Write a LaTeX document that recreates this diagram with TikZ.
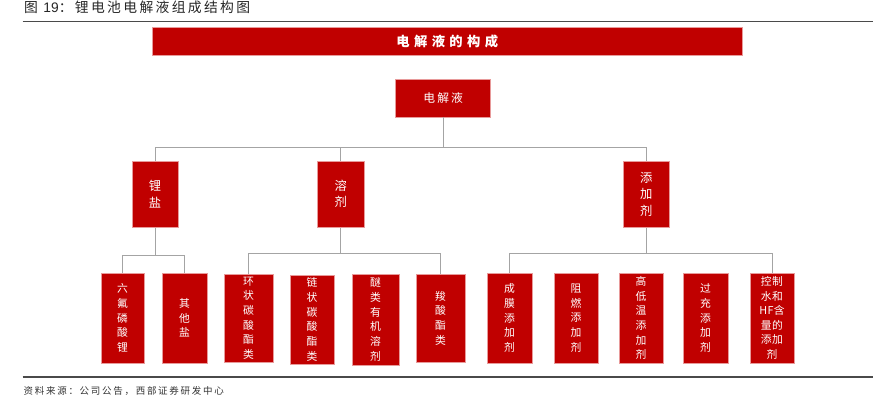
\documentclass[tikz,border=0pt]{standalone}
\usepackage{fontspec}
\newfontfamily\cjk{Noto Sans CJK SC}
\newfontfamily\cjktitle[LetterSpace=17]{Noto Sans CJK SC}
\newfontfamily\cjksrc[LetterSpace=18]{Noto Sans CJK SC}
\newfontfamily\cjkbanner[LetterSpace=33]{Noto Sans CJK SC}
\newfontfamily\cjkroot[LetterSpace=18]{Noto Sans CJK SC}
\newfontfamily\cjkpair[LetterSpace=4]{Noto Sans CJK SC}
\newfontfamily\latsans{Liberation Sans}
\definecolor{boxred}{HTML}{C00000}
\definecolor{boxedge}{HTML}{E89A9A}
\definecolor{conngray}{HTML}{A4A4A4}
\definecolor{rulegray}{HTML}{4A4A4A}
\begin{document}
\begin{tikzpicture}[x=1pt,y=-1pt,
  box/.style={fill=boxred, draw=boxedge, line width=0.5pt, text=white, inner sep=0pt, align=center},
  leaf/.style={box, minimum height=90pt, font=\cjk\fontsize{10.8}{14.7}\selectfont},
  midbox/.style={box, minimum width=46.5pt, minimum height=66.5pt, font=\cjk\fontsize{12.3}{16.5}\selectfont},
  conn/.style={draw=conngray, line width=1pt},
  rule/.style={draw=rulegray, line width=1.1pt}]
\useasboundingbox (0,0) rectangle (885,413);

% title and rules
\node[anchor=west, inner sep=0pt, text=black!85, font=\cjktitle\fontsize{13.8}{15}\selectfont] (title) at (24,7.5) {图 {\latsans\fontsize{13.8}{15}\selectfont 19}：锂电池电解液组成结构图};
\coordinate (r1a) at (22.5,21.5);
\coordinate (r1b) at (873,21.5);
\coordinate (r2a) at (22.5,377);
\coordinate (r2b) at (873,377);
\draw[rule] (r1a) -- (r1b);
\draw[rule] (r2a) -- (r2b);
\node[anchor=west, inner sep=0pt, text=black!80, font=\cjksrc\fontsize{9.5}{11}\selectfont] (src) at (23.5,391) {资料来源：公司公告，西部证券研发中心};

% banner
\node[box, minimum width=590.5pt, minimum height=28.4pt, font=\cjkbanner\bfseries\fontsize{13.3}{15}\selectfont] (banner) at (447.3,41.5) {电解液的构成};

% root
\node[box, minimum width=95pt, minimum height=38pt, font=\cjkroot\fontsize{11.8}{13}\selectfont] (root) at (443.2,98) {电解液};

% level 2
\node[midbox] (salt) at (155,194) {锂\\盐};
\node[midbox] (solv) at (340.8,194) {溶\\剂};
\node[midbox] (addi) at (646.3,194.3) {添\\加\\剂};

% leaves
\node[leaf, minimum width=43pt] (s1) at (122.5,318) {六\\氟\\磷\\酸\\锂};
\node[leaf, minimum width=45pt] (s2) at (184.5,318) {其\\他\\盐};
\node[leaf, minimum width=49pt, minimum height=88pt] (v1) at (248.5,318) {环\\状\\碳\\酸\\酯\\类};
\node[leaf, minimum width=44pt, minimum height=89pt] (v2) at (312,319.5) {链\\状\\碳\\酸\\酯\\类};
\node[leaf, minimum width=47pt, minimum height=91pt] (v3) at (375.5,319.5) {醚\\类\\有\\机\\溶\\剂};
\node[leaf, minimum width=49pt, minimum height=88pt] (v4) at (440.5,318) {羧\\酸\\酯\\类};
\node[leaf, minimum width=45pt] (a1) at (509.5,318) {成\\膜\\添\\加\\剂};
\node[leaf, minimum width=44pt] (a2) at (576,318) {阻\\燃\\添\\加\\剂};
\node[leaf, minimum width=44pt] (a3) at (641,318) {高\\低\\温\\添\\加\\剂};
\node[leaf, minimum width=45pt] (a4) at (705.5,318) {过\\充\\添\\加\\剂};
\node[leaf, minimum width=44pt, font=\cjkpair\fontsize{10.8}{14.5}\selectfont] (a5) at (772,318) {控制\\水和\\HF含\\量的\\添加\\剂};

% connectors
\coordinate (bar0) at (0,147.5);
\coordinate (bar1) at (0,255);
\coordinate (bar2) at (0,253.5);
\coordinate (bar3) at (0,253.5);
\draw[conn] (root.south) -- (root.south |- bar0);
\draw[conn] (salt.north) -- (salt.north |- bar0) -- (addi.north |- bar0) -- (addi.north);
\draw[conn] (solv.north) -- (solv.north |- bar0);

\draw[conn] (salt.south) -- (salt.south |- bar1);
\draw[conn] (s1.north) -- (s1.north |- bar1) -- (s2.north |- bar1) -- (s2.north);

\draw[conn] (solv.south) -- (solv.south |- bar2);
\draw[conn] (v1.north) -- (v1.north |- bar2) -- (v4.north |- bar2) -- (v4.north);

\draw[conn] (addi.south) -- (addi.south |- bar3);
\draw[conn] (a1.north) -- (a1.north |- bar3) -- (a5.north |- bar3) -- (a5.north);
\end{tikzpicture}
\end{document}
